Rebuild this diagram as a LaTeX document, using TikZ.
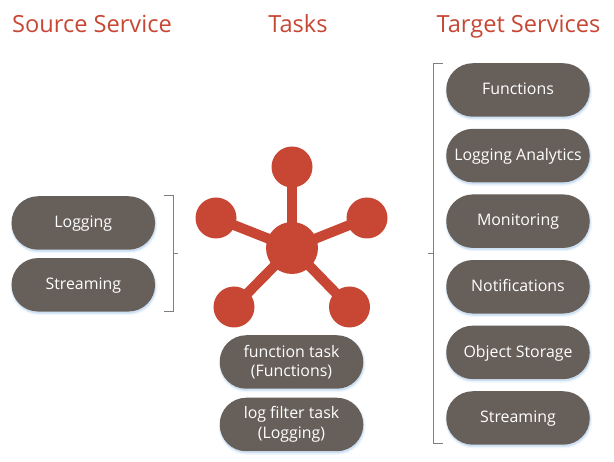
\documentclass[tikz,border=0pt]{standalone}
\usepackage{fontspec}
\setmainfont{Open Sans}
\usetikzlibrary{shadows}
\definecolor{pillfill}{HTML}{665F5A}
\definecolor{redc}{HTML}{C74634}
\definecolor{brk}{HTML}{7F7F7F}
\definecolor{shad}{HTML}{BBD6F0}
\tikzset{
  pill/.style={rounded corners=26.5pt,fill=pillfill,text=white,minimum width=143.5pt,minimum height=53.5pt,inner sep=0pt,align=center,font=\fontsize{15.9pt}{19.5pt}\selectfont,
    drop shadow={shadow xshift=0.7pt,shadow yshift=-1.8pt,fill=shad,draw=shad,line width=3.5pt,opacity=.22},
    drop shadow={shadow xshift=0.5pt,shadow yshift=-1.5pt,fill=shad,draw=shad,line width=1.5pt,opacity=.4}},
  oneline/.style={text height=13.5pt,text depth=4pt},
  head/.style={text=redc,font=\fontsize{23.6pt}{28pt}\selectfont,inner sep=0pt,text height=17pt,text depth=5pt},
  hubdot/.style={circle,fill=redc,minimum size=41pt,inner sep=0pt},
  hubcore/.style={circle,fill=redc,minimum size=52pt,inner sep=0pt},
  spoke/.style={draw=redc,line width=10pt},
  bracket/.style={draw=brk,line width=1pt}
}
\begin{document}
\begin{tikzpicture}[x=1pt,y=-1pt]
\useasboundingbox (0,0) rectangle (614,462);
\node[head] (h1) at (92,27) {Source Service};
\node[head] (h2) at (298,27) {Tasks};
\node[head] (h3) at (518.5,27) {Target Services};
\node[pill,oneline] (logging) at (83.3,223) {Logging};
\node[pill,oneline] (streaming) at (83.3,284.8) {Streaming};
\node[pill,oneline] (func) at (518,90) {Functions};
\node[pill,oneline] (la) at (518,155.6) {Logging Analytics};
\node[pill,oneline] (mon) at (518,221.2) {Monitoring};
\node[pill,oneline] (notif) at (518,286.8) {Notifications};
\node[pill,oneline] (obj) at (518,352.4) {Object Storage};
\node[pill,oneline] (stream2) at (518,418) {Streaming};
\node[pill] (ft) at (291.5,362) {function task\\(Functions)};
\node[pill] (lf) at (291.5,424.5) {log filter task\\(Logging)};
\node[hubcore] (hub) at (292,248) {};
\node[hubdot] (top) at (292,167) {};
\node[hubdot] (left) at (216,218) {};
\node[hubdot] (right) at (367,218) {};
\node[hubdot] (bl) at (234,307) {};
\node[hubdot] (br) at (349.5,307) {};
\foreach \n in {top,left,right,bl,br} \draw[spoke] (hub.center) -- (\n.center);
\coordinate (la1) at (164,196);
\coordinate (la2) at (173,196);
\coordinate (la3) at (173,311.5);
\coordinate (la4) at (164,311.5);
\coordinate (lm) at (173,254);
\coordinate (lt) at (178,254);
\draw[bracket] (la1) -- (la2) -- (la3) -- (la4);
\draw[bracket] (lm) -- (lt);
\coordinate (ra1) at (443,63.5);
\coordinate (ra2) at (433,63.5);
\coordinate (ra3) at (433,444);
\coordinate (ra4) at (443,444);
\coordinate (rm) at (433,254);
\coordinate (rt) at (428,254);
\draw[bracket] (ra1) -- (ra2) -- (ra3) -- (ra4);
\draw[bracket] (rm) -- (rt);
\end{tikzpicture}
\end{document}
